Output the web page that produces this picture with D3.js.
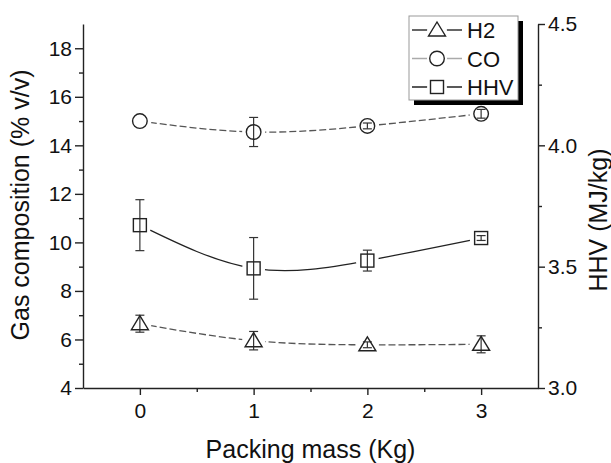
<!DOCTYPE html>
<html>
  <head>
    <meta charset="utf-8">
    <title>Gas composition vs packing mass</title>
    <script src="https://d3js.org/d3.v7.min.js"></script>
    <style>
      body { margin: 0; background: #fff; }
      text { font-family: "Liberation Sans", Arial, sans-serif; fill: #111; }
      .axis path, .axis line { stroke: #222; stroke-width: 1.4; }
      .axis text { font-size: 21px; font-family: "Liberation Sans", Arial, sans-serif; fill: #111; }
    </style>
  </head>
  <body>
    <div id="chart"></div>
    <script>
      // Values
      var masses = [0, 1, 2, 3];
      var h2 = [6.65, 5.95, 5.78, 5.8];
      var h2Err = [0.35, 0.38, 0.12, 0.35];
      var co = [15.0, 14.55, 14.8, 15.3];
      var coErr = [0, 0.6, 0.12, 0.18];
      var hhv = [3.671, 3.493, 3.525, 3.618];
      var hhvErr = [0.105, 0.127, 0.043, 0.01];

      var xTicks = [0, 1, 2, 3];
      var xMinor = [0.5, 1.5, 2.5];
      var leftTicks = [4, 6, 8, 10, 12, 14, 16, 18];
      var leftMinor = [5, 7, 9, 11, 13, 15, 17];
      var rightTicks = [3.0, 3.5, 4.0, 4.5];
      var rightMinor = [3.25, 3.75, 4.25];

      var width = 611, height = 463;
      var plot = { left: 83, right: 538, top: 24, bottom: 388 };

      var svg = d3.select("#chart")
                  .append("svg")
                  .attr("width", width)
                  .attr("height", height);

      var x = d3.scaleLinear().domain([-0.5, 3.5]).range([plot.left, plot.right]);
      var yL = d3.scaleLinear().domain([4, 19]).range([plot.bottom, plot.top]);
      var yR = d3.scaleLinear().domain([3.0, 4.5]).range([plot.bottom, plot.top]);

      // axes
      svg.append("g").attr("class", "axis")
         .attr("transform", "translate(0," + plot.bottom + ")")
         .call(d3.axisBottom(x).tickValues(xTicks).tickSize(7).tickSizeOuter(0).tickPadding(8).tickFormat(d3.format("d")));
      svg.append("g").attr("class", "axis")
         .attr("transform", "translate(0," + plot.bottom + ")")
         .call(d3.axisBottom(x).tickValues(xMinor).tickSize(4).tickFormat(""))
         .select(".domain").remove();

      svg.append("g").attr("class", "axis")
         .attr("transform", "translate(" + plot.left + ",0)")
         .call(d3.axisLeft(yL).tickValues(leftTicks).tickSize(8).tickSizeOuter(0).tickPadding(3));
      svg.append("g").attr("class", "axis")
         .attr("transform", "translate(" + plot.left + ",0)")
         .call(d3.axisLeft(yL).tickValues(leftMinor).tickSize(4).tickFormat(""))
         .select(".domain").remove();

      svg.append("g").attr("class", "axis")
         .attr("transform", "translate(" + plot.right + ",0)")
         .call(d3.axisRight(yR).tickValues(rightTicks).tickSize(7).tickSizeOuter(0).tickPadding(3).tickFormat(d3.format(".1f")));
      svg.append("g").attr("class", "axis")
         .attr("transform", "translate(" + plot.right + ",0)")
         .call(d3.axisRight(yR).tickValues(rightMinor).tickSize(4).tickFormat(""))
         .select(".domain").remove();

      // axis titles
      svg.append("text")
         .attr("x", (plot.left + plot.right) / 2)
         .attr("y", 458)
         .style("text-anchor", "middle")
         .style("font-size", "25px")
         .text("Packing mass (Kg)");

      svg.append("text")
         .attr("transform", "translate(29,205) rotate(-90)")
         .style("text-anchor", "middle")
         .style("font-size", "25px")
         .text("Gas composition (% v/v)");

      svg.append("text")
         .attr("transform", "translate(607,220) rotate(-90)")
         .style("text-anchor", "middle")
         .style("font-size", "25px")
         .text("HHV (MJ/kg)");

      var series = [
        { name: "H2", vals: h2, err: h2Err, y: yL, shape: "triangle", dash: "7,3", color: "#555", legendColor: "#333" },
        { name: "CO", vals: co, err: coErr, y: yL, shape: "circle", dash: "7,3", color: "#555", legendColor: "#aaa" },
        { name: "HHV", vals: hhv, err: hhvErr, y: yR, shape: "square", dash: null, color: "#222", legendColor: "#222" }
      ];

      function marker(g, shape, cx, cy) {
        if (shape === "circle") {
          g.append("circle").attr("cx", cx).attr("cy", cy).attr("r", 7.3);
        } else if (shape === "square") {
          g.append("rect").attr("x", cx - 6.5).attr("y", cy - 6.5).attr("width", 13).attr("height", 13);
        } else {
          g.append("path").attr("d", "M" + cx + "," + (cy - 8) + "L" + (cx + 8.5) + "," + (cy + 6) + "L" + (cx - 8.5) + "," + (cy + 6) + "Z");
        }
      }

      var line = d3.line().curve(d3.curveNatural);

      series.forEach(function(s) {
        var pts = masses.map(function(m, i) { return [x(m), s.y(s.vals[i])]; });
        svg.append("path")
           .attr("d", line(pts))
           .attr("fill", "none")
           .attr("stroke", s.color)
           .attr("stroke-width", 1.3)
           .attr("stroke-dasharray", s.dash);
      });

      // white gaps round the markers
      series.forEach(function(s) {
        masses.forEach(function(m, i) {
          svg.append("circle")
             .attr("cx", x(m)).attr("cy", s.y(s.vals[i]))
             .attr("r", 11.5).attr("fill", "#fff");
        });
      });

      series.forEach(function(s) {
        var g = svg.append("g").attr("stroke", "#333").attr("stroke-width", 1.2);
        masses.forEach(function(m, i) {
          if (!s.err[i]) return;
          var cx = x(m), y1 = s.y(s.vals[i] + s.err[i]), y0 = s.y(s.vals[i] - s.err[i]);
          g.append("line").attr("x1", cx).attr("x2", cx).attr("y1", y1).attr("y2", y0);
          g.append("line").attr("x1", cx - 4.5).attr("x2", cx + 4.5).attr("y1", y1).attr("y2", y1);
          g.append("line").attr("x1", cx - 4.5).attr("x2", cx + 4.5).attr("y1", y0).attr("y2", y0);
        });
        var mg = svg.append("g").attr("fill", "none").attr("stroke", "#222").attr("stroke-width", 1.4);
        masses.forEach(function(m, i) {
          marker(mg, s.shape, x(m), s.y(s.vals[i]));
        });
      });

      // legend
      var lg = svg.append("g");
      lg.append("rect").attr("x", 414).attr("y", 21).attr("width", 109).attr("height", 84).attr("fill", "#000");
      lg.append("rect").attr("x", 409).attr("y", 16).attr("width", 109).attr("height", 84)
        .attr("fill", "#fff").attr("stroke", "#999").attr("stroke-width", 1);
      series.forEach(function(s, i) {
        var ly = 30 + i * 28.5;
        lg.append("line").attr("x1", 412).attr("x2", 462).attr("y1", ly).attr("y2", ly)
          .attr("stroke", s.legendColor).attr("stroke-width", 1.3);
        lg.append("circle").attr("cx", 437).attr("cy", ly).attr("r", 10).attr("fill", "#fff");
        var mg = lg.append("g").attr("fill", "none").attr("stroke", "#222").attr("stroke-width", 1.4);
        marker(mg, s.shape, 437, ly);
        lg.append("text").attr("x", 467).attr("y", ly + 8).style("font-size", "22px").text(s.name);
      });
    </script>
  </body>
</html>
